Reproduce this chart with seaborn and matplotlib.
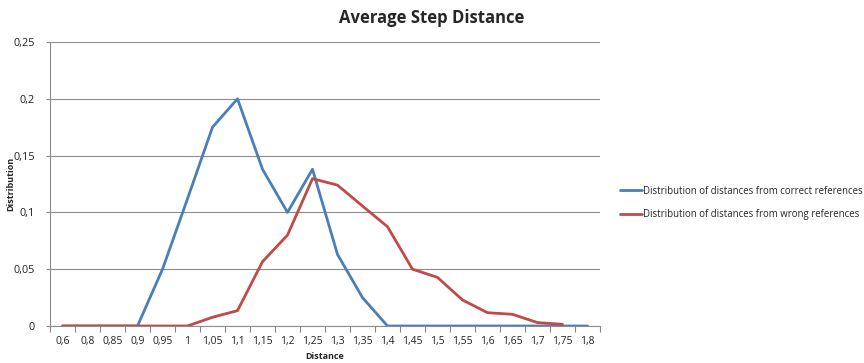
import numpy as np
import pandas as pd
import matplotlib
matplotlib.use("Agg")
import matplotlib.pyplot as plt
from matplotlib.ticker import FixedLocator
import seaborn as sns

categories = ["0,6", "0,8", "0,85", "0,9", "0,95", "1", "1,05", "1,1", "1,15", "1,2", "1,25",
              "1,3", "1,35", "1,4", "1,45", "1,5", "1,55", "1,6", "1,65", "1,7", "1,75", "1,8"]
correct = [0, 0, 0, 0, 0.05, 0.112, 0.175, 0.2, 0.138, 0.1, 0.138,
           0.063, 0.025, 0, 0, 0, 0, 0, 0, 0, 0, 0]
wrong = [0, 0, 0, 0, 0, 0, 0.0077, 0.0135, 0.0566, 0.080, 0.1297,
         0.124, 0.1056, 0.0874, 0.050, 0.0428, 0.0229, 0.0117, 0.0103, 0.003, 0.0015, np.nan]
series_names = ["Distribution of distances from correct references",
                "Distribution of distances from wrong references"]
y_ticks = [0, 0.05, 0.1, 0.15, 0.2, 0.25]
y_tick_labels = ["0", "0,05", "0,1", "0,15", "0,2", "0,25"]

sns.set_style("white")
plt.rcParams["font.family"] = ["Open Sans", "DejaVu Sans"]

pos = np.arange(len(categories))
df = pd.DataFrame({
    "pos": np.concatenate([pos, pos]),
    "value": correct + wrong,
    "series": [series_names[0]] * len(pos) + [series_names[1]] * len(pos),
})

fig = plt.figure(figsize=(8.64, 3.63), dpi=100)
ax = fig.add_axes([50 / 864, 1 - 326 / 363, 550 / 864, 284 / 363])

sns.lineplot(data=df, x="pos", y="value", hue="series",
             palette=["#4A7EBB", "#BE4B48"], linewidth=2.0, ax=ax, legend=True)

ax.set_xlim(-0.5, len(categories) - 0.5)
ax.set_ylim(0, 0.25)
ax.set_xticks(pos)
ax.set_xticklabels(categories, fontsize=7.5, color="#222222")
ax.xaxis.set_minor_locator(FixedLocator(np.arange(-0.5, len(categories), 1)))
ax.tick_params(axis="x", which="major", length=0, pad=7)
ax.tick_params(axis="x", which="minor", length=4, color="#888888", width=0.8, direction="out", bottom=True)
ax.set_yticks(y_ticks)
ax.set_yticklabels(y_tick_labels, fontsize=7.8, color="#222222")
ax.tick_params(axis="y", length=3, color="#888888", width=0.8, direction="out", left=True, pad=8)
ax.yaxis.grid(True, color="#8c8c8c", linewidth=0.8)
ax.set_axisbelow(True)
for s in ["top", "right"]:
    ax.spines[s].set_visible(False)
for s in ["left", "bottom"]:
    ax.spines[s].set_color("#8c8c8c")
    ax.spines[s].set_linewidth(0.8)

ax.set_xlabel("Distance", fontsize=6.5, fontweight="bold")
ax.xaxis.set_label_coords(275 / 550, -(352 - 326) / 284)
ax.set_ylabel("Distribution", fontsize=6.5, fontweight="bold")
ax.yaxis.set_label_coords(-(50 - 15) / 550, (326 - 184) / 284)
fig.suptitle("Average Step Distance", x=0.5, y=1 - 18 / 363, va="center", fontsize=12, fontweight="bold")

leg = ax.legend(loc="center left", bbox_to_anchor=(1.02, (326 - 203) / 284), frameon=False,
                fontsize=6.9, handlelength=2.3, handletextpad=0.1, labelspacing=1.3)

fig.savefig("out.png", dpi=100)
